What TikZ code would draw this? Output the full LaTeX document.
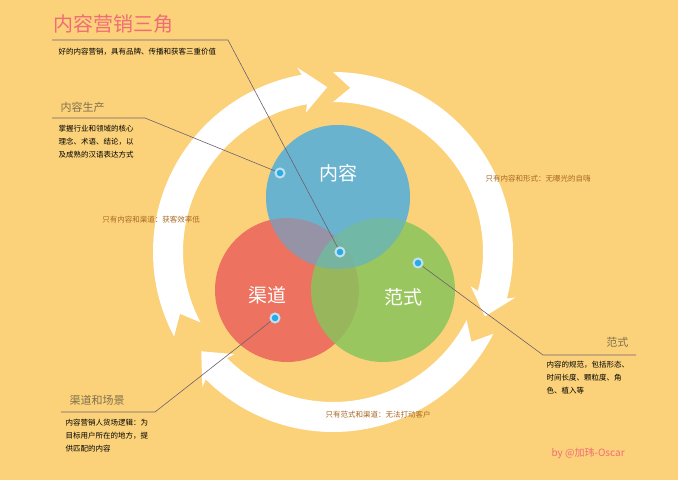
\documentclass[tikz,border=0pt]{standalone}
\usepackage{fontspec}
\setmainfont{Noto Sans CJK SC}
\definecolor{bgyellow}{RGB}{251,210,122}
\definecolor{cblue}{RGB}{96,178,214}
\definecolor{cred}{RGB}{236,98,92}
\definecolor{cgreen}{RGB}{138,196,92}
\definecolor{titlepink}{RGB}{240,108,118}
\definecolor{headgray}{RGB}{128,112,78}
\definecolor{notebrown}{RGB}{168,104,36}
\definecolor{leader}{RGB}{110,96,110}
\definecolor{dotblue}{RGB}{40,170,230}
\newcommand{\ringpart}[2]{% хвост, основание стрелки (углы)
  \fill[white] (#1:180) arc (#1:#2:180) -- ({#2+1}:188) -- ({#2-8}:165) -- ({#2+1}:142) -- (#2:150) arc (#2:#1:150) -- ({#1-6}:165) -- cycle;}
\begin{document}
\begin{tikzpicture}[x=1pt,y=1pt]
\tikzstyle{myball} = [circle, minimum size=144pt, inner sep=0pt, opacity=0.85] % круги
\tikzstyle{mydot} = [circle, minimum size=9pt, inner sep=0pt, fill=dotblue, draw=cblue!40, line width=2pt] % точки
\tikzstyle{myhead} = [anchor=base west, font=\fontsize{11}{13}\selectfont, text=headgray] % заголовки
\tikzstyle{mytext} = [anchor=north west, align=left, font=\fontsize{7.5}{13}\selectfont] % абзацы
\tikzstyle{mynote} = [font=\fontsize{7.5}{9}\selectfont, text=notebrown] % пометки
\tikzstyle{myline} = [leader, line width=0.6pt]
\fill[bgyellow] (0,0) rectangle (678,480);
% кольцо со стрелками
\begin{scope}[shift={(333,228)}]
\ringpart{208}{100}
\ringpart{90}{-15}
\ringpart{-27}{-135}
\end{scope}
% три круга
\node[myball, fill=cblue] (content) at (338,283) {};
\node[myball, fill=cred] (channel) at (287,190) {};
\node[myball, fill=cgreen] (form) at (383,190) {};
\node[myball, fill=cblue, opacity=0.55] at (338,283) {};
\node[text=white, font=\fontsize{19}{21}\selectfont] at (338,307) {内容};
\node[text=white, font=\fontsize{19}{21}\selectfont] at (267,185) {渠道};
\node[text=white, font=\fontsize{19}{21}\selectfont] at (403,183) {范式};
% точки
\node[mydot] (dcontent) at (280,307) {};
\node[mydot] (dtitle) at (340,228) {};
\node[mydot] (dform) at (418,217) {};
\node[mydot] (dchannel) at (275,162) {};
% заголовок
\node[anchor=base west, text=titlepink, font=\fontsize{20}{22}\selectfont] (title) at (50,448) {内容营销三角};
\node[anchor=base west, font=\fontsize{7.5}{9}\selectfont] at (55,425) {好的内容营销，具有品牌、传播和获客三重价值};
\coordinate (t1) at (52,440); \coordinate (t2) at (228,440);
\draw[myline] (t1) -- (t2) -- (dtitle);
%内容生产
\node[myhead] at (57,368) {内容生产};
\node[mytext] at (55,358) {掌握行业和领域的核心\\理念、术语、结论，以\\及成熟的汉语表达方式};
\coordinate (p1) at (52,362); \coordinate (p2) at (145,362);
\draw[myline] (p1) -- (p2) -- (dcontent);
% 范式
\node[myhead, anchor=base east] at (632,133) {范式};
\node[mytext] at (543,122) {内容的规范，包括形态、\\时间长度、颗粒度、角\\色、植入等};
\coordinate (f1) at (636,125); \coordinate (f2) at (543,125);
\draw[myline] (f1) -- (f2) -- (dform);
% 渠道和场景
\node[myhead] at (66,76) {渠道和场景};
\node[mytext] at (62,64) {内容营销人货场逻辑：为\\目标用户所在的地方，提\\供匹配的内容};
\coordinate (c1) at (61,68); \coordinate (c2) at (155,68);
\draw[myline] (c1) -- (c2) -- (dchannel);
% пометки
\node[mynote] at (151,260) {只有内容和渠道：获客效率低};
\node[mynote] at (538,301) {只有内容和形式：无曝光的自嗨};
\node[mynote] at (378,65) {只有范式和渠道：无法打动客户};
\node[anchor=base west, text=titlepink, font=\fontsize{10}{12}\selectfont] at (548,24) {by @加玮-Oscar};
\end{tikzpicture}
\end{document}
